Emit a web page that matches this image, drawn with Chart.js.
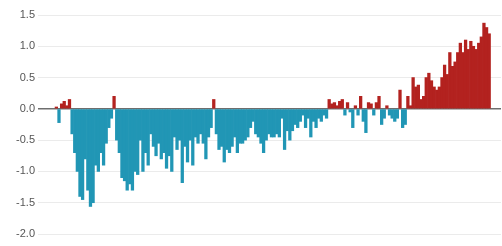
<!DOCTYPE html>
<html>
<head>
<meta charset="utf-8">
<script src="https://cdn.jsdelivr.net/npm/chart.js@4"></script>
<style>
  html, body { margin: 0; padding: 0; background: #fff; }
  #wrap { width: 502px; height: 246px; }
</style>
</head>
<body>
<div id="wrap"><canvas id="chart" width="502" height="246"></canvas></div>
<script>
// Annual anomaly values, first year 1850
const firstYear = 1850;
const anomalies = [
    0.03, -0.22, 0.08, 0.12, 0.05, 0.15, -0.4, -0.7, -1.0, -1.4,
    -1.45, -0.8, -1.3, -1.56, -1.5, -0.9, -1.0, -0.7, -0.9, -0.55,
    -0.3, -0.15, 0.2, -0.5, -0.7, -1.1, -1.15, -1.3, -1.2, -1.3,
    -1.0, -1.05, -0.5, -1.0, -0.7, -0.9, -0.4, -0.6, -0.75, -0.55,
    -0.8, -0.7, -0.95, -0.75, -1.0, -0.45, -0.65, -0.5, -1.18, -0.6,
    -0.85, -0.5, -0.9, -0.45, -0.55, -0.4, -0.55, -0.8, -0.45, -0.3,
    0.15, -0.4, -0.65, -0.6, -0.85, -0.65, -0.7, -0.6, -0.45, -0.7,
    -0.55, -0.55, -0.5, -0.45, -0.3, -0.2, -0.4, -0.45, -0.55, -0.7,
    -0.5, -0.4, -0.45, -0.45, -0.4, -0.45, -0.15, -0.65, -0.35, -0.5,
    -0.35, -0.25, -0.3, -0.2, -0.1, -0.3, -0.15, -0.45, -0.2, -0.3,
    -0.15, -0.2, -0.1, -0.15, 0.15, 0.08, 0.1, 0.05, 0.12, 0.15,
    -0.1, 0.1, -0.05, -0.3, 0.05, -0.1, 0.2, -0.2, -0.38, 0.1,
    0.08, -0.1, 0.1, 0.2, -0.25, -0.15, 0.05, -0.1, -0.15, -0.2,
    -0.15, 0.3, -0.3, -0.25, 0.2, 0.05, 0.5, 0.35, 0.38, 0.15,
    0.2, 0.5, 0.57, 0.45, 0.35, 0.3, 0.35, 0.5, 0.7, 0.55,
    0.9, 0.68, 0.75, 0.9, 1.05, 0.9, 1.1, 0.95, 1.08, 1.0,
    0.95, 1.05, 1.15, 1.37, 1.3, 1.2
];
const years = anomalies.map((v, i) => firstYear + i);
const yTicks = [1.5, 1.0, 0.5, 0.0, -0.5, -1.0, -1.5, -2.0];

const warmColor = '#b3221f';
const coolColor = '#2196b5';

const ctx = document.getElementById('chart').getContext('2d');
new Chart(ctx, {
    type: 'bar',
    data: {
        datasets: [{
            data: years.map((y, i) => ({ x: y, y: anomalies[i] })),
            backgroundColor: anomalies.map(v => v >= 0 ? warmColor : coolColor),
            borderWidth: 0,
            barPercentage: 1,
            categoryPercentage: 1
        }]
    },
    options: {
        responsive: false,
        animation: false,
        layout: { padding: { top: 15, bottom: 12, right: 1, left: 0 } },
        plugins: {
            legend: { display: false },
            tooltip: { enabled: false }
        },
        scales: {
            x: {
                type: 'linear',
                min: 1843,
                max: 2019.5,
                offset: false,
                display: false
            },
            y: {
                min: -2,
                max: 1.5,
                afterFit: scale => { scale.width = 38; },
                afterBuildTicks: scale => {
                    scale.ticks = yTicks.map(v => ({ value: v }));
                },
                border: { display: false },
                grid: {
                    drawTicks: false,
                    color: c => c.tick && c.tick.value === 0 ? '#6e6e6e' : '#ebebeb',
                    lineWidth: c => c.tick && c.tick.value === 0 ? 1.5 : 1
                },
                ticks: {
                    padding: 3,
                    color: '#555',
                    font: { family: 'Liberation Sans, Arial, sans-serif', size: 11 },
                    callback: v => v.toFixed(1)
                }
            }
        }
    }
});
</script>
</body>
</html>
